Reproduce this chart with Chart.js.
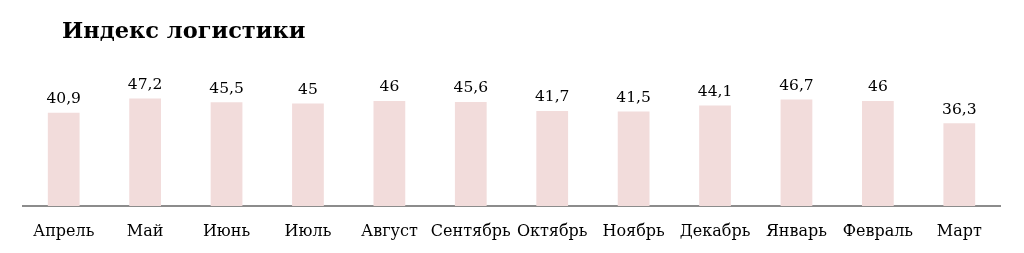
<!DOCTYPE html>
<html>
<head>
<meta charset="utf-8">
<script src="https://cdn.jsdelivr.net/npm/chart.js@4.4.1/dist/chart.umd.min.js"></script>
<style>
  html, body { margin: 0; padding: 0; background: #fff; }
  #wrap { width: 1024px; height: 253px; }
</style>
</head>
<body>
<div id="wrap"><canvas id="chart"></canvas></div>
<script>
const months = ['Апрель', 'Май', 'Июнь', 'Июль', 'Август', 'Сентябрь', 'Октябрь', 'Ноябрь', 'Декабрь', 'Январь', 'Февраль', 'Март']
const logisticsIndex = [40.9, 47.2, 45.5, 45, 46, 45.6, 41.7, 41.5, 44.1, 46.7, 46, 36.3]
const chartTitle = 'Индекс логистики'

const serif = '"DejaVu Serif", "Liberation Serif", serif'

// title drawn at the top left, like the original
const titlePlugin = {
  id: 'leftTitle',
  afterDraw(chart) {
    const ctx = chart.ctx
    ctx.save()
    ctx.font = `bold 22.5px ${serif}`
    ctx.fillStyle = '#000'
    ctx.textAlign = 'left'
    ctx.textBaseline = 'alphabetic'
    ctx.fillText(chartTitle, 62, 38)
    ctx.restore()
  }
}

// values above the bars, comma as decimal mark
const valueLabels = {
  id: 'valueLabels',
  afterDatasetsDraw(chart) {
    const ctx = chart.ctx
    const meta = chart.getDatasetMeta(0)
    ctx.save()
    ctx.font = `15.5px ${serif}`
    ctx.fillStyle = '#000'
    ctx.textAlign = 'center'
    ctx.textBaseline = 'bottom'
    meta.data.forEach((bar, i) => {
      const text = String(logisticsIndex[i]).replace('.', ',')
      ctx.fillText(text, bar.x, bar.y - 6)
    })
    ctx.restore()
  }
}

new Chart(document.getElementById('chart'), {
  type: 'bar',
  data: {
    labels: months,
    datasets: [{
      data: logisticsIndex,
      backgroundColor: '#f2dcdb',
      categoryPercentage: 1,
      barPercentage: 0.39
    }]
  },
  options: {
    responsive: true,
    maintainAspectRatio: false,
    animation: false,
    layout: { padding: { top: 92, left: 23, right: 24, bottom: 0 } },
    plugins: {
      legend: { display: false },
      tooltip: { enabled: false },
      title: { display: false }
    },
    scales: {
      x: {
        grid: { display: false },
        border: { color: '#8c8c8c', width: 2 },
        ticks: {
          color: '#000',
          font: { family: serif, size: 16 },
          padding: 8,
          maxRotation: 0,
          autoSkip: false
        },
        afterFit(scale) { scale.height = 47 }
      },
      y: {
        display: false,
        min: 0,
        max: 50
      }
    }
  },
  plugins: [titlePlugin, valueLabels]
})
</script>
</body>
</html>
